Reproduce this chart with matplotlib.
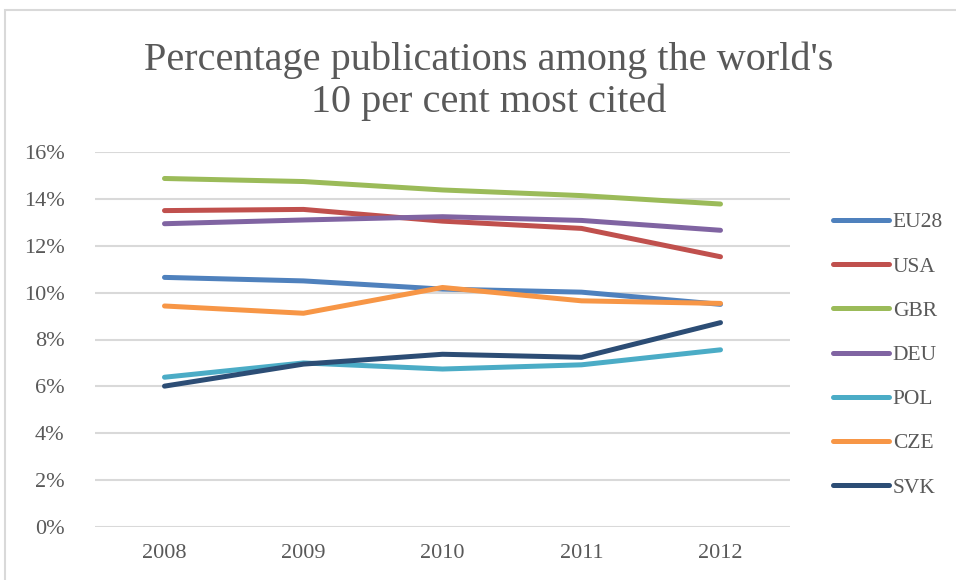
import numpy as np
from matplotlib import pyplot as plt
from matplotlib.patches import Rectangle
from matplotlib.ticker import PercentFormatter

years = ['2008', '2009', '2010', '2011', '2012']
eu28 = [10.65, 10.5, 10.15, 10.02, 9.5]
usa = [13.5, 13.55, 13.05, 12.74, 11.53]
gbr = [14.87, 14.74, 14.38, 14.14, 13.78]
deu = [12.94, 13.1, 13.24, 13.08, 12.66]
pol = [6.39, 7.0, 6.74, 6.92, 7.56]
cze = [9.43, 9.12, 10.22, 9.65, 9.54]
svk = [6.01, 6.95, 7.37, 7.24, 8.72]

series = [('EU28', eu28, '#4F81BD'),
          ('USA', usa, '#C0504D'),
          ('GBR', gbr, '#9BBB59'),
          ('DEU', deu, '#8064A2'),
          ('POL', pol, '#4BACC6'),
          ('CZE', cze, '#F79646'),
          ('SVK', svk, '#2C4D75')]

GREY = '#595959'
plt.rcParams['font.family'] = ['Liberation Serif', 'DejaVu Serif']

fig = plt.figure(figsize=(9.56, 5.8), dpi=100)
# chart border
fig.patches.append(Rectangle((5 / 956, -0.1), 1.2, 1.1 - 10 / 580,
                             transform=fig.transFigure, fill=False,
                             ec='#d9d9d9', lw=1.5))

ax = fig.add_axes([95 / 956, 1 - 527 / 580, 695 / 956, 375 / 580])
x = np.arange(len(years))
for name, vals, col in series:
    ax.plot(x, np.array(vals) / 100, color=col, lw=3.6,
            solid_capstyle='round', solid_joinstyle='round', label=name)

ax.set_xlim(-0.5, 4.5)
ax.set_ylim(0, 0.16)
ax.set_yticks(np.arange(0, 0.161, 0.02))
ax.yaxis.set_major_formatter(PercentFormatter(1.0, decimals=0))
ax.set_xticks(x)
ax.set_xticklabels(years)
ax.grid(axis='y', color='#d9d9d9', lw=1.5)
ax.set_axisbelow(True)
for s in ax.spines.values():
    s.set_visible(False)
ax.tick_params(length=0, labelsize=16, colors=GREY)
ax.tick_params(axis='x', pad=12)
ax.tick_params(axis='y', pad=22)

fig.text(0.511, 1 - 81 / 580, "Percentage publications among the world's\n10 per cent most cited",
         ha='center', va='center', fontsize=29, color=GREY, linespacing=1.15)

leg = ax.legend(loc='center left', bbox_to_anchor=(824 / 956, 1 - 355 / 580),
                bbox_transform=fig.transFigure, frameon=False, fontsize=15.5,
                handlelength=2.6, handletextpad=0.2, labelspacing=1.12,
                borderaxespad=0)
for t in leg.get_texts():
    t.set_color(GREY)

fig.savefig('out.png', dpi=100)
